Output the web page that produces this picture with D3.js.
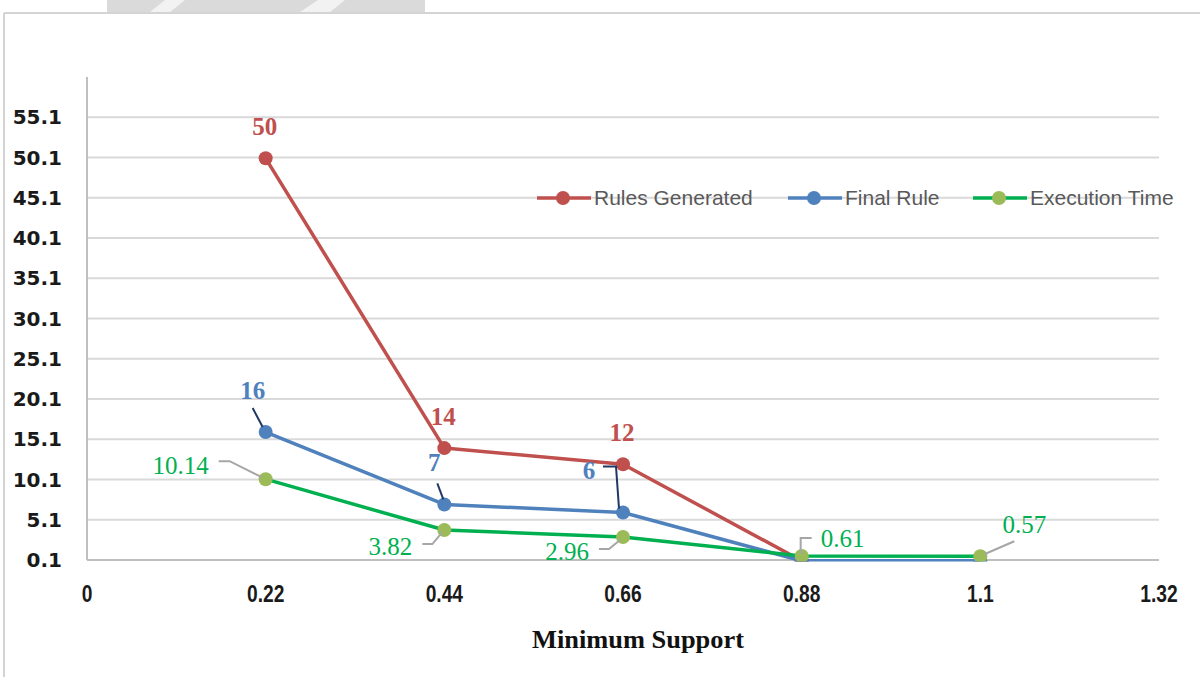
<!DOCTYPE html>
<html>
<head>
<meta charset="utf-8">
<script src="https://cdn.jsdelivr.net/npm/d3@7/dist/d3.min.js"></script>
<style>
  html, body { margin: 0; padding: 0; background: #fff; }
  svg { display: block; }
</style>
</head>
<body>
<svg id="chart" width="1200" height="677"></svg>
<script>
// Minimum support levels on the x axis
const support = [0.22, 0.44, 0.66, 0.88, 1.1];
const xTicks = [0, 0.22, 0.44, 0.66, 0.88, 1.1, 1.32];
const xTickLabels = ["0", "0.22", "0.44", "0.66", "0.88", "1.1", "1.32"];
const yTicks = [0.1, 5.1, 10.1, 15.1, 20.1, 25.1, 30.1, 35.1, 40.1, 45.1, 50.1, 55.1];

// Series values
const rulesGenerated = [50, 14, 12, 0];
const finalRule = [16, 7, 6, 0, 0];
const executionTime = [10.14, 3.82, 2.96, 0.61, 0.57];

const seriesNames = ["Rules Generated", "Final Rule", "Execution Time"];

const svg = d3.select("#chart");
const W = 1200, H = 677;

// page frame and faint background shape above it
svg.append("rect").attr("x", 107).attr("y", 0).attr("width", 318).attr("height", 12).attr("fill", "#dadada");
svg.append("path").attr("d", "M150,12 L165,0 L185,0 L170,12 Z M300,12 L318,0 L345,0 L330,12 Z").attr("fill", "#f2f2f2");
svg.append("line").attr("x1", 4).attr("x2", W).attr("y1", 13).attr("y2", 13).attr("stroke", "#d4d4d4").attr("stroke-width", 2);
svg.append("line").attr("x1", 4).attr("x2", 4).attr("y1", 13).attr("y2", H).attr("stroke", "#d4d4d4").attr("stroke-width", 2);

const x = d3.scaleLinear().domain([0, 1.32]).range([87, 1159]);
const y = d3.scaleLinear().domain([0.1, 60.1]).range([560, 77]);

// plot area clip: values under the axis minimum are cut at the baseline
svg.append("clipPath").attr("id", "plotClip").append("rect")
  .attr("x", 0).attr("y", 0).attr("width", W).attr("height", y(0.1) + 1.5);

// gridlines
svg.append("g").selectAll("line").data(yTicks.slice(1)).join("line")
  .attr("x1", x(0)).attr("x2", x(1.32))
  .attr("y1", d => y(d)).attr("y2", d => y(d))
  .attr("stroke", "#d9d9d9").attr("stroke-width", 2);

// axes lines
svg.append("line").attr("x1", x(0)).attr("x2", x(0)).attr("y1", y(60.1)).attr("y2", y(0.1))
  .attr("stroke", "#bfbfbf").attr("stroke-width", 2);
svg.append("line").attr("x1", x(0)).attr("x2", x(1.32)).attr("y1", y(0.1)).attr("y2", y(0.1))
  .attr("stroke", "#bfbfbf").attr("stroke-width", 2);

// y tick labels
svg.append("g").selectAll("text").data(yTicks).join("text")
  .attr("x", 62).attr("y", d => y(d)).attr("dy", "0.36em")
  .attr("text-anchor", "end")
  .style("font-family", "'DejaVu Sans', sans-serif").style("font-weight", "bold").style("font-size", "20px")
  .attr("fill", "#1a1a1a")
  .text(d => d.toFixed(1));

// x tick labels (condensed)
svg.append("g").selectAll("text").data(xTicks).join("text")
  .attr("transform", d => `translate(${x(d)},593) scale(0.8,1)`)
  .attr("dy", "0.36em")
  .attr("text-anchor", "middle")
  .style("font-family", "'Liberation Sans', sans-serif").style("font-weight", "bold").style("font-size", "24px")
  .attr("fill", "#1a1a1a")
  .text((d, i) => xTickLabels[i]);

// x axis title
svg.append("text").attr("x", 638).attr("y", 648)
  .attr("text-anchor", "middle")
  .attr("textLength", 212).attr("lengthAdjust", "spacingAndGlyphs")
  .style("font-family", "'Liberation Serif', serif").style("font-weight", "bold").style("font-size", "25px")
  .attr("fill", "#111")
  .text("Minimum  Support");

const colors = {
  red: "#C0504D", blue: "#4F81BD", greenLine: "#00B050", greenMarker: "#9BBB59",
  navy: "#1F3864", leader: "#a6a6a6"
};

const line = d3.line().x(d => x(d[0])).y(d => y(d[1]));
const series = [
  { name: seriesNames[0], values: rulesGenerated, stroke: colors.red, fill: colors.red },
  { name: seriesNames[1], values: finalRule, stroke: colors.blue, fill: colors.blue },
  { name: seriesNames[2], values: executionTime, stroke: colors.greenLine, fill: colors.greenMarker }
];

const marks = svg.append("g").attr("clip-path", "url(#plotClip)");
series.forEach(s => {
  const pts = s.values.map((v, i) => [support[i], v]);
  marks.append("path").attr("d", line(pts)).attr("fill", "none")
    .attr("stroke", s.stroke).attr("stroke-width", 3.5).attr("stroke-linejoin", "round");
});
series.forEach(s => {
  const pts = s.values.map((v, i) => [support[i], v]);
  marks.append("g").selectAll("circle").data(pts).join("circle")
    .attr("cx", d => x(d[0])).attr("cy", d => y(d[1])).attr("r", 7)
    .attr("fill", s.fill);
});

// data labels
const labelFont = "'Liberation Serif', serif";
function label(txt, lx, ly, color, bold) {
  svg.append("text").attr("x", lx).attr("y", ly).attr("dy", "0.35em")
    .attr("text-anchor", "middle")
    .style("font-family", labelFont).style("font-size", "25px")
    .style("font-weight", bold ? "bold" : "normal")
    .attr("fill", color).text(txt);
}
function leader(points, color) {
  svg.append("path").attr("d", d3.line()(points)).attr("fill", "none")
    .attr("stroke", color).attr("stroke-width", 2);
}

// Rules Generated labels, placed above the points
[0, 1, 2].forEach(i => {
  label(String(rulesGenerated[i]), x(support[i]) - 1, y(rulesGenerated[i]) - 32, colors.red, true);
});

// Final Rule labels with leader lines
{
  const px0 = x(support[0]), py0 = y(finalRule[0]);
  label(String(finalRule[0]), px0 - 13, py0 - 42, colors.blue, true);
  leader([[px0 - 13, py0 - 24], [px0 - 3, py0 - 5]], colors.navy);
  const px1 = x(support[1]), py1 = y(finalRule[1]);
  label(String(finalRule[1]), px1 - 10, py1 - 42, colors.blue, true);
  leader([[px1 - 7, py1 - 21], [px1 - 1, py1 - 5]], colors.navy);
  const px2 = x(support[2]), py2 = y(finalRule[2]);
  label(String(finalRule[2]), px2 - 34, py2 - 42, colors.blue, true);
  leader([[px2 - 20, py2 - 46], [px2 - 7, py2 - 46], [px2 - 4, py2 - 4]], colors.navy);
}

// Execution Time labels with leader lines
{
  const g = colors.greenLine;
  const p = executionTime.map((v, i) => [x(support[i]), y(v)]);
  label(executionTime[0].toFixed(2), p[0][0] - 85, p[0][1] - 14, g, false);
  leader([[p[0][0] - 47, p[0][1] - 18], [p[0][0] - 36, p[0][1] - 18], [p[0][0] - 4, p[0][1] - 2]], colors.leader);
  label(executionTime[1].toFixed(2), p[1][0] - 54, p[1][1] + 16, g, false);
  leader([[p[1][0] - 22, p[1][1] + 14], [p[1][0] - 12, p[1][1] + 14], [p[1][0] - 2, p[1][1] + 2]], colors.leader);
  label(executionTime[2].toFixed(2), p[2][0] - 56, p[2][1] + 14, g, false);
  leader([[p[2][0] - 24, p[2][1] + 12], [p[2][0] - 14, p[2][1] + 12], [p[2][0] - 3, p[2][1] + 3]], colors.leader);
  label(executionTime[3].toFixed(2), p[3][0] + 41, p[3][1] - 18, g, false);
  leader([[p[3][0] - 1, p[3][1] - 2], [p[3][0] - 1, p[3][1] - 18], [p[3][0] + 10, p[3][1] - 18]], colors.leader);
  label(executionTime[4].toFixed(2), p[4][0] + 44, p[4][1] - 32, g, false);
  leader([[p[4][0] + 4, p[4][1] - 2], [p[4][0] + 34, p[4][1] - 15]], colors.leader);
}

// legend
const legendItems = [
  { name: seriesNames[0], x0: 537, stroke: colors.red, fill: colors.red },
  { name: seriesNames[1], x0: 788, stroke: colors.blue, fill: colors.blue },
  { name: seriesNames[2], x0: 973, stroke: colors.greenLine, fill: colors.greenMarker }
];
const ly = 198;
legendItems.forEach(it => {
  const gL = svg.append("g");
  gL.append("line").attr("x1", it.x0).attr("x2", it.x0 + 54).attr("y1", ly).attr("y2", ly)
    .attr("stroke", it.stroke).attr("stroke-width", 3.5);
  gL.append("circle").attr("cx", it.x0 + 26).attr("cy", ly).attr("r", 7).attr("fill", it.fill);
  gL.append("text").attr("x", it.x0 + 57).attr("y", ly).attr("dy", "0.35em")
    .style("font-family", "'Liberation Sans', sans-serif").style("font-size", "21px")
    .attr("fill", "#595959").text(it.name);
});
</script>
</body>
</html>
